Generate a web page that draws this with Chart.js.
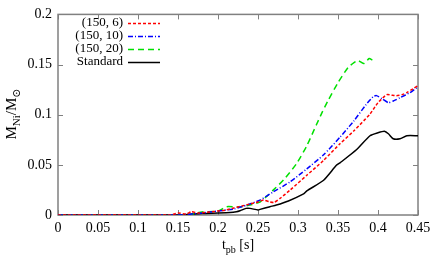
<!DOCTYPE html>
<html>
<head>
<meta charset="utf-8">
<script src="https://cdn.jsdelivr.net/npm/chart.js@4.4.0/dist/chart.umd.min.js"></script>
<style>
  html, body { margin: 0; padding: 0; background: #fff; }
  #contenedor { width: 436px; height: 262px; position: relative; }
</style>
</head>
<body>
<div id="contenedor"><canvas id="grafico"></canvas></div>
<script>
// === DATOS ===
const tickX = [0, 0.05, 0.1, 0.15, 0.2, 0.25, 0.3, 0.35, 0.4, 0.45];
const tickY = [0, 0.05, 0.1, 0.15, 0.2];

const etiquetas = ['(150, 6)', '(150, 10)', '(150, 20)', 'Standard'];

const t6 = [0, 0.14, 0.15, 0.16, 0.167, 0.175, 0.19, 0.2, 0.21, 0.22, 0.23, 0.24, 0.25, 0.257, 0.265, 0.27, 0.2775, 0.29, 0.311, 0.332, 0.3525, 0.37, 0.39, 0.4, 0.411, 0.417, 0.423, 0.43, 0.436, 0.444, 0.45];
const m6 = [0, 0, 0.002, 0.001, 0.0033, 0.002, 0.003, 0.004, 0.005, 0.007, 0.009, 0.011, 0.013, 0.0149, 0.013, 0.0125, 0.0165, 0.0248, 0.0396, 0.0545, 0.071, 0.084, 0.1007, 0.112, 0.12, 0.1195, 0.119, 0.12, 0.122, 0.126, 0.129];

const t10 = [0, 0.15, 0.18, 0.2, 0.22, 0.236, 0.2525, 0.269, 0.29, 0.311, 0.332, 0.3525, 0.37, 0.385, 0.394, 0.398, 0.405, 0.413, 0.42, 0.4275, 0.44, 0.45];
const m10 = [0, 0, 0.002, 0.004, 0.006, 0.0099, 0.0149, 0.023, 0.033, 0.046, 0.06, 0.0776, 0.094, 0.11, 0.118, 0.119, 0.116, 0.112, 0.114, 0.117, 0.122, 0.128];

const t20 = [0, 0.16, 0.18, 0.2, 0.211, 0.225, 0.24, 0.2525, 0.26, 0.269, 0.282, 0.298, 0.311, 0.323, 0.33, 0.3375, 0.35, 0.3625, 0.37, 0.375, 0.382, 0.389, 0.393];
const m20 = [0, 0, 0.003, 0.004, 0.0083, 0.008, 0.0099, 0.013, 0.018, 0.0248, 0.035, 0.051, 0.069, 0.09, 0.102, 0.114, 0.132, 0.147, 0.152, 0.154, 0.151, 0.156, 0.1545];

const tStd = [0, 0.15, 0.18, 0.2, 0.215, 0.223, 0.2275, 0.235, 0.24, 0.25, 0.2525, 0.265, 0.273, 0.288, 0.307, 0.311, 0.332, 0.348, 0.3525, 0.373, 0.39, 0.4, 0.408, 0.413, 0.419, 0.4275, 0.436, 0.45];
const mStd = [0, 0, 0.0015, 0.002, 0.0025, 0.0033, 0.0043, 0.0066, 0.0066, 0.005, 0.0056, 0.0083, 0.0099, 0.014, 0.021, 0.024, 0.0347, 0.0495, 0.052, 0.065, 0.079, 0.082, 0.0835, 0.081, 0.076, 0.076, 0.079, 0.079];

const puntos = (t, m) => t.map((x, i) => ({ x: x, y: m[i] }));

const FUENTE = '"Liberation Serif", "DejaVu Serif", serif';

// === PLUGIN: marco, ticks hacia adentro, leyenda y títulos ===
const marco = {
  id: 'marco',
  beforeDatasetsDraw(chart) {
    const { ctx, chartArea: a, scales } = chart;
    ctx.save();
    ctx.strokeStyle = '#808080';
    ctx.lineWidth = 1.5;
    ctx.strokeRect(a.left, a.top, a.right - a.left, a.bottom - a.top);
    ctx.lineWidth = 1;
    ctx.beginPath();
    tickX.forEach(v => {
      const px = Math.round(scales.x.getPixelForValue(v)) + 0.5;
      ctx.moveTo(px, a.bottom); ctx.lineTo(px, a.bottom - 5);
      ctx.moveTo(px, a.top); ctx.lineTo(px, a.top + 5);
    });
    tickY.forEach(v => {
      const py = Math.round(scales.y.getPixelForValue(v)) + 0.5;
      ctx.moveTo(a.left, py); ctx.lineTo(a.left + 5, py);
      ctx.moveTo(a.right, py); ctx.lineTo(a.right - 5, py);
    });
    ctx.stroke();
    ctx.restore();
  },
  afterDraw(chart) {
    const { ctx, chartArea: a } = chart;
    ctx.save();

    // Leyenda: texto alineado a la derecha, muestra de línea a la derecha
    ctx.font = '13px ' + FUENTE;
    ctx.textAlign = 'right';
    ctx.textBaseline = 'middle';
    chart.data.datasets.forEach((ds, i) => {
      const y = 23 + i * 13;
      ctx.fillStyle = '#000';
      ctx.fillText(ds.label, 123, y);
      ctx.strokeStyle = ds.borderColor;
      ctx.lineWidth = ds.borderWidth;
      ctx.setLineDash(ds.borderDash || []);
      ctx.beginPath();
      ctx.moveTo(128, y + 0.5); ctx.lineTo(160, y + 0.5);
      ctx.stroke();
    });
    ctx.setLineDash([]);

    // Título eje x: t_pb [s]
    ctx.fillStyle = '#000';
    ctx.textAlign = 'left';
    ctx.textBaseline = 'alphabetic';
    const partesX = [['t', '14px ' + FUENTE, 0], ['pb', '10px ' + FUENTE, 4], [' [s]', '14px ' + FUENTE, 0]];
    dibujarPartes(ctx, partesX, (a.left + a.right) / 2, 249);

    // Título eje y: M_Ni/M_⊙ (rotado)
    ctx.translate(16, 114);
    ctx.rotate(-Math.PI / 2);
    const fM = '15px ' + FUENTE, fS = '11px ' + FUENTE;
    const partesY = [['M', fM, 0], ['Ni', fS, 4], ['/M', fM, 0], ['\u2299', fS, 4]];
    dibujarPartes(ctx, partesY, 0, 0);
    ctx.restore();
  }
};

function dibujarPartes(ctx, partes, cx, y) {
  let ancho = 0;
  partes.forEach(p => { ctx.font = p[1]; ancho += ctx.measureText(p[0]).width; });
  let x = cx - ancho / 2;
  partes.forEach(p => {
    ctx.font = p[1];
    ctx.fillText(p[0], x, y + p[2]);
    x += ctx.measureText(p[0]).width;
  });
}

// === GRÁFICA ===
const ctx = document.getElementById('grafico').getContext('2d');
new Chart(ctx, {
  type: 'line',
  data: {
    datasets: [
      { label: etiquetas[0], data: puntos(t6, m6), borderColor: '#ff0000', borderWidth: 1.5, borderDash: [3, 2] },
      { label: etiquetas[1], data: puntos(t10, m10), borderColor: '#0000ff', borderWidth: 1.5, borderDash: [5, 2, 1, 2] },
      { label: etiquetas[2], data: puntos(t20, m20), borderColor: '#00e000', borderWidth: 1.5, borderDash: [6, 4] },
      { label: etiquetas[3], data: puntos(tStd, mStd), borderColor: '#000000', borderWidth: 1.5 }
    ]
  },
  options: {
    responsive: true,
    maintainAspectRatio: false,
    animation: false,
    layout: { padding: { top: 13, right: 18, left: 0, bottom: 0 } },
    elements: { point: { radius: 0 }, line: { tension: 0.2 } },
    plugins: { legend: { display: false }, tooltip: { enabled: false } },
    scales: {
      x: {
        type: 'linear', min: 0, max: 0.45,
        afterBuildTicks: s => { s.ticks = tickX.map(v => ({ value: v })); },
        afterFit: s => { s.height = 47; },
        grid: { display: false, drawTicks: false }, border: { display: false },
        ticks: { color: '#000', padding: 5, maxRotation: 0, font: { family: FUENTE, size: 14 },
                 callback: v => String(Number(v.toFixed(2))) }
      },
      y: {
        type: 'linear', min: 0, max: 0.2,
        afterBuildTicks: s => { s.ticks = tickY.map(v => ({ value: v })); },
        afterFit: s => { s.width = 58; },
        grid: { display: false, drawTicks: false }, border: { display: false },
        ticks: { color: '#000', padding: 6, font: { family: FUENTE, size: 14 },
                 callback: v => String(Number(v.toFixed(2))) }
      }
    }
  },
  plugins: [marco]
});
</script>
</body>
</html>
